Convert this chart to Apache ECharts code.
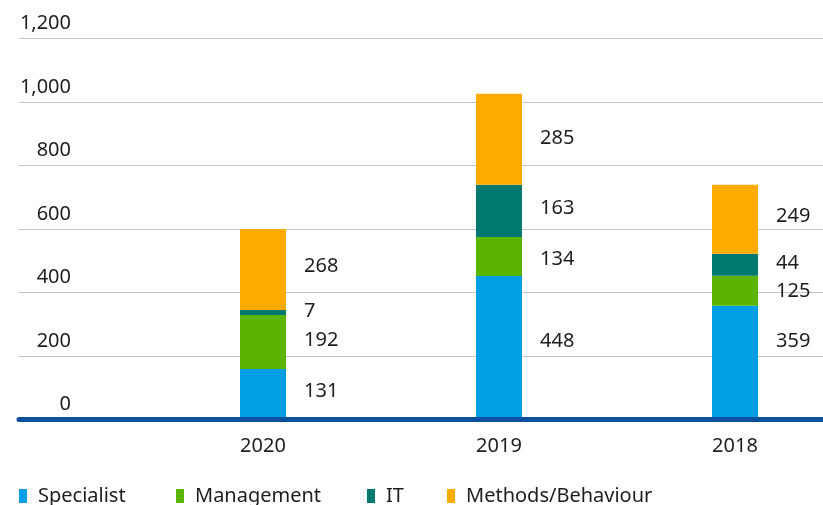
<!DOCTYPE html>
<html>
<head>
<meta charset="utf-8">
<script src="https://cdn.jsdelivr.net/npm/echarts@6/dist/echarts.min.js"></script>
<style>
html,body{margin:0;padding:0;background:#fff;}
#chart{width:823px;height:505px;}
</style>
</head>
<body>
<div id="chart"></div>
<script>
// ---- data ----
const years = ['2020', '2019', '2018'];
const seriesNames = ['Specialist', 'Management', 'IT', 'Methods/Behaviour'];
// bar heights as drawn in the picture
const specialist = [159, 452, 358];
const management = [170, 123, 95];
const itValues = [16, 164, 69];
const methods = [255, 287, 217];
// numbers printed next to the segments
const specialistLabels = [131, 448, 359];
const managementLabels = [192, 134, 125];
const itLabels = [7, 163, 44];
const methodsLabels = [268, 285, 249];
const yMin = 0, yMax = 1200, yStep = 200;

// ---- styling (not data) ----
const colors = ['#009fe3', '#5ab400', '#007a70', '#ffab00'];
const labelShiftY = [
  [-3, -6, -21],
  [-2, 3, 1],
  [-1, -3, -1],
  [-3, -1, -3]
];
const legendLeft = [19, 176, 367, 447];
const FONT = '"Noto Sans", "Open Sans", sans-serif';
const TXT = '#1e1e1e';

const allValues = [specialist, management, itValues, methods];
const allLabels = [specialistLabels, managementLabels, itLabels, methodsLabels];

const chart = echarts.init(document.getElementById('chart'), null, {renderer: 'canvas'});

const series = allValues.map((vals, si) => ({
  name: seriesNames[si],
  type: 'bar',
  stack: 'total',
  xAxisIndex: 1,
  yAxisIndex: 1,
  barWidth: 46,
  clip: false,
  itemStyle: {color: colors[si]},
  label: {
    show: true,
    position: 'right',
    distance: 18,
    fontFamily: FONT,
    fontSize: 20,
    color: TXT,
    formatter: p => String(allLabels[si][p.dataIndex])
  },
  data: vals.map((v, i) => ({value: v, label: {offset: [0, labelShiftY[si][i]]}}))
}));

const legends = seriesNames.map((n, i) => ({
  data: [n],
  left: legendLeft[i],
  top: 486,
  padding: 0,
  itemWidth: 8,
  itemHeight: 14,
  icon: 'rect',
  selectedMode: false,
  textStyle: {fontFamily: FONT, fontSize: 20, color: TXT, padding: [0, 0, 0, 6]}
}));

chart.setOption({
  animation: false,
  backgroundColor: '#fff',
  color: colors,
  legend: legends,
  grid: [
    {left: 19, right: 0, top: 38.5, bottom: 85.5, containLabel: false},
    {left: 263, right: 88, top: 38.5, bottom: 85.5, containLabel: false}
  ],
  xAxis: [
    {
      gridIndex: 0, type: 'value', min: 0, max: 1, z: 5,
      axisLine: {show: true, lineStyle: {color: '#0b4f9f', width: 5}},
      axisTick: {show: false}, axisLabel: {show: false}, splitLine: {show: false}
    },
    {
      gridIndex: 1, type: 'category', data: years, boundaryGap: false,
      axisLine: {show: false}, axisTick: {show: false},
      axisLabel: {fontFamily: FONT, fontSize: 20, color: TXT, margin: 17}
    }
  ],
  yAxis: [
    {
      gridIndex: 0, type: 'value', min: yMin, max: yMax, interval: yStep,
      axisLine: {show: false}, axisTick: {show: false},
      splitLine: {show: true, lineStyle: {color: '#c4c4c4', width: 1}},
      axisLabel: {
        inside: true, margin: 52, align: 'right', verticalAlign: 'bottom', lineHeight: 30,
        fontFamily: FONT, fontSize: 20, color: TXT,
        formatter: v => v.toLocaleString('en-US')
      }
    },
    {
      gridIndex: 1, type: 'value', min: yMin, max: yMax, interval: yStep, show: false,
      splitLine: {show: false}
    }
  ],
  series: series
});
</script>
</body>
</html>
